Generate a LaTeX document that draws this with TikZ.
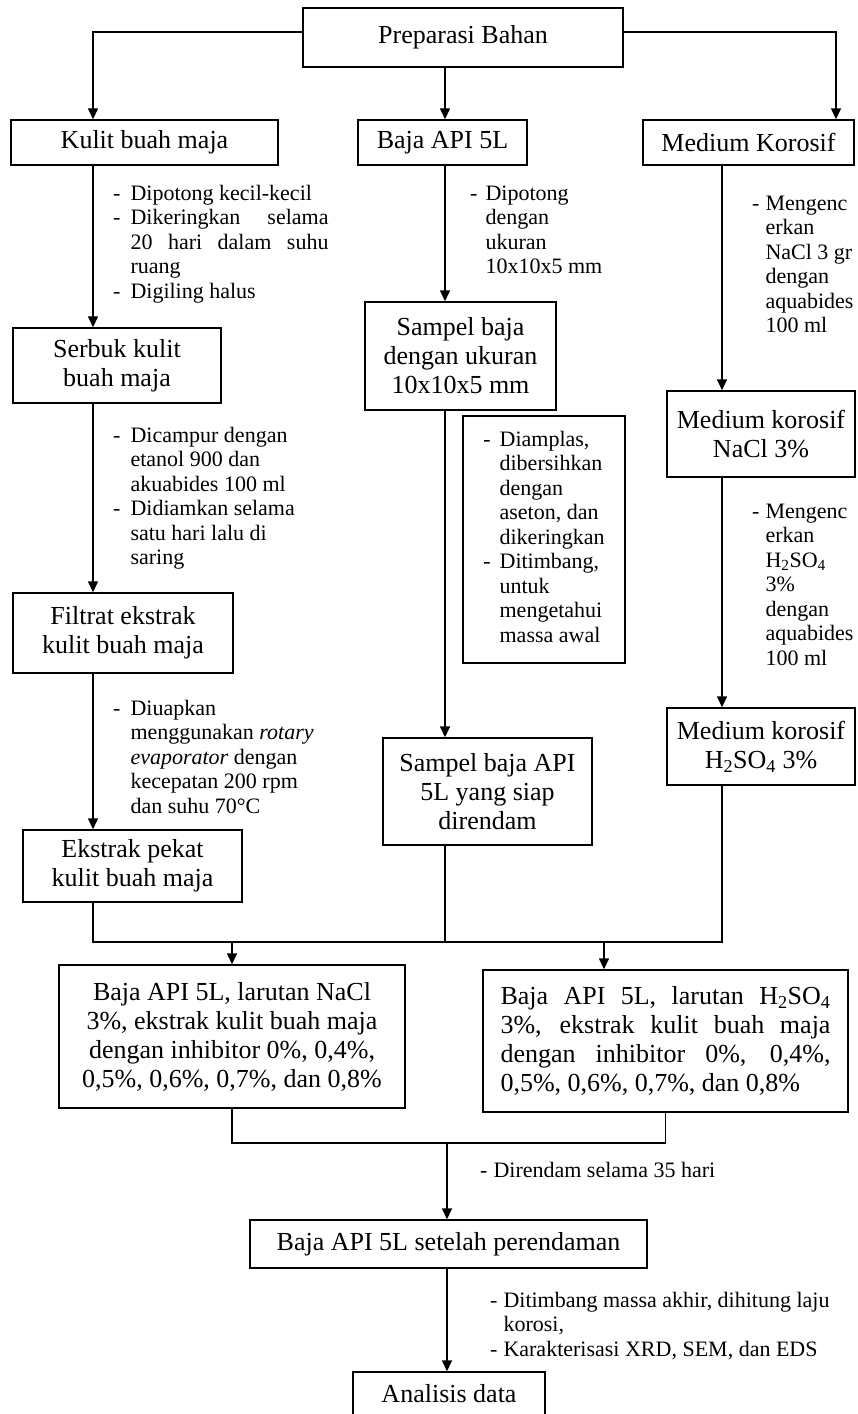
\documentclass[tikz,border=0pt]{standalone}
\usepackage{fontspec}
\setmainfont{Liberation Serif}
\usetikzlibrary{arrows.meta}
\begin{document}
\begin{tikzpicture}[x=1pt,y=-1pt,
  box/.style={draw, line width=1.4pt, inner sep=0pt, align=center, font=\fontsize{26}{29}\selectfont},
  note/.style={inner sep=0pt, anchor=north west, font=\fontsize{22}{24.5}\selectfont},
  ln/.style={line width=1.4pt},
  arr/.style={ln, -{Triangle[width=10pt,length=11pt]}}]
\useasboundingbox (0,0) rectangle (857,1414);
\clip (0,0) rectangle (857,1414);
\fill[white] (0,0) rectangle (857,1414);

% column coordinates
\coordinate (cL) at (93,0);
\coordinate (cM) at (445,0);
\coordinate (cR) at (722,0);
\coordinate (cRR) at (836,0);
\coordinate (cA) at (604,0);
\coordinate (cD) at (447,0);
\coordinate (j) at (0,942);
\coordinate (j2) at (0,1143);

% boxes
\node[box, minimum width=320pt, minimum height=59pt] (prep) at (463,37.5) {Preparasi Bahan};
\node[box, minimum width=267pt, minimum height=45pt] (kulit) at (144.5,142.5) {Kulit buah maja};
\node[box, minimum width=169pt, minimum height=45pt] (baja) at (442.5,142.5) {Baja API 5L};
\node[box, minimum width=211pt, minimum height=45pt] (medium) at (748.5,142.5) {Medium Korosif};
\node[box, minimum width=208pt, minimum height=75pt] (serbuk) at (117,365.5) {Serbuk kulit\\buah maja};
\node[box, minimum width=220pt, minimum height=80pt] (filtrat) at (123,633) {Filtrat ekstrak\\kulit buah maja};
\node[box, minimum width=219pt, minimum height=72pt] (ekstrak) at (132.5,866) {Ekstrak pekat\\kulit buah maja};
\node[box, minimum width=191pt, minimum height=108pt] (sampel) at (460.5,356) {Sampel baja\\dengan ukuran\\10x10x5 mm};
\node[box, minimum width=209pt, minimum height=107pt] (sampel2) at (487.5,791.5) {Sampel baja API\\5L yang siap\\direndam};
\node[box, minimum width=188pt, minimum height=86pt] (nacl) at (761,434) {Medium korosif\\NaCl 3\%};
\node[box, minimum width=188pt, minimum height=77pt] (h2so4) at (761,746.5) {Medium korosif\\H\textsubscript{2}SO\textsubscript{4} 3\%};
\node[box, minimum width=346pt, minimum height=143pt] (lowL) at (232,1036.5) {Baja API 5L, larutan NaCl\\3\%, ekstrak kulit buah maja\\dengan inhibitor 0\%, 0,4\%,\\0,5\%, 0,6\%, 0,7\%, dan 0,8\%};
\node[box, minimum width=365pt, minimum height=142pt] (lowR) at (665.5,1041) {\makebox[330pt][s]{Baja API 5L, larutan H\textsubscript{2}SO\textsubscript{4}}\\\makebox[330pt][s]{3\%, ekstrak kulit buah maja}\\\makebox[330pt][s]{dengan inhibitor 0\%, 0,4\%,}\\\makebox[330pt][l]{0,5\%, 0,6\%, 0,7\%, dan 0,8\%}};
\node[box, minimum width=397pt, minimum height=48pt] (setelah) at (448.5,1244) {Baja API 5L setelah perendaman};
\node[box, minimum width=192pt, minimum height=44pt] (analisis) at (449,1394) {Analisis data};

% notes box (middle)
\node[box, font=\fontsize{22}{24.5}\selectfont, minimum width=162pt, minimum height=247pt] (nbox) at (544,539.5) {\begin{tabular}{@{}l@{\hspace{9pt}}l@{}}
-&Diamplas,\\
&dibersihkan\\
&dengan\\
&aseton, dan\\
&dikeringkan\\
-&Ditimbang,\\
&untuk\\
&mengetahui\\
&massa awal
\end{tabular}};

% notes
\node[note] (n1) at (113,183) {\begin{tabular}{@{}l@{\hspace{10pt}}l@{}}
-&Dipotong kecil-kecil\\
-&\makebox[198pt][s]{Dikeringkan selama}\\
&\makebox[198pt][s]{20 hari dalam suhu}\\
&ruang\\
-&Digiling halus
\end{tabular}};
\node[note] (n2) at (113,425) {\begin{tabular}{@{}l@{\hspace{10pt}}l@{}}
-&Dicampur dengan\\
&etanol 900 dan\\
&akuabides 100 ml\\
-&Didiamkan selama\\
&satu hari lalu di\\
&saring
\end{tabular}};
\node[note] (n3) at (113,698) {\begin{tabular}{@{}l@{\hspace{10pt}}l@{}}
-&Diuapkan\\
&menggunakan \textit{rotary}\\
&\textit{evaporator} dengan\\
&kecepatan 200 rpm\\
&dan suhu 70°C
\end{tabular}};
\node[note] (n4) at (470,183) {\begin{tabular}{@{}l@{\hspace{8pt}}l@{}}
-&Dipotong\\
&dengan\\
&ukuran\\
&10x10x5 mm
\end{tabular}};
\node[note] (n5) at (752,193) {\begin{tabular}{@{}l@{\hspace{6pt}}l@{}}
-&Mengenc\\
&erkan\\
&NaCl 3 gr\\
&dengan\\
&aquabides\\
&100 ml
\end{tabular}};
\node[note] (n6) at (752,501) {\begin{tabular}{@{}l@{\hspace{6pt}}l@{}}
-&Mengenc\\
&erkan\\
&H\textsubscript{2}SO\textsubscript{4}\\
&3\%\\
&dengan\\
&aquabides\\
&100 ml
\end{tabular}};
\node[note] (n7) at (480,1160) {\begin{tabular}{@{}l@{\hspace{6pt}}l@{}}
-&Direndam selama 35 hari
\end{tabular}};
\node[note] (n8) at (490,1290) {\begin{tabular}{@{}l@{\hspace{6pt}}l@{}}
-&Ditimbang massa akhir, dihitung laju\\
&korosi,\\
-&Karakterisasi XRD, SEM, dan EDS
\end{tabular}};

% connectors
\draw[arr] ([yshift=5.5pt]prep.west) -| (kulit.north -| cL);
\draw[arr] ([yshift=5.5pt]prep.east) -| (medium.north -| cRR);
\draw[arr] (prep.south -| cM) -- (baja.north -| cM);
\draw[arr] (kulit.south -| cL) -- (serbuk.north -| cL);
\draw[arr] (serbuk.south -| cL) -- (filtrat.north -| cL);
\draw[arr] (filtrat.south -| cL) -- (ekstrak.north -| cL);
\draw[arr] (baja.south -| cM) -- (sampel.north -| cM);
\draw[arr] (sampel.south -| cM) -- (sampel2.north -| cM);
\draw[arr] (medium.south -| cR) -- (nacl.north -| cR);
\draw[arr] (nacl.south -| cR) -- (h2so4.north -| cR);
\draw[ln] (ekstrak.south -| cL) -- (j -| cL) -- (j -| cR) -- (h2so4.south -| cR);
\draw[ln] (sampel2.south -| cM) -- (j -| cM);
\draw[arr] (j -| lowL.north) -- (lowL.north);
\draw[arr] (j -| cA) -- (lowR.north -| cA);
\draw[ln] (lowL.south) -- (j2 -| lowL.south) -- (j2 -| lowR.south) -- (lowR.south);
\draw[arr] (j2 -| cD) -- (setelah.north -| cD);
\draw[arr] (setelah.south -| cD) -- (analisis.north -| cD);
\end{tikzpicture}
\end{document}
